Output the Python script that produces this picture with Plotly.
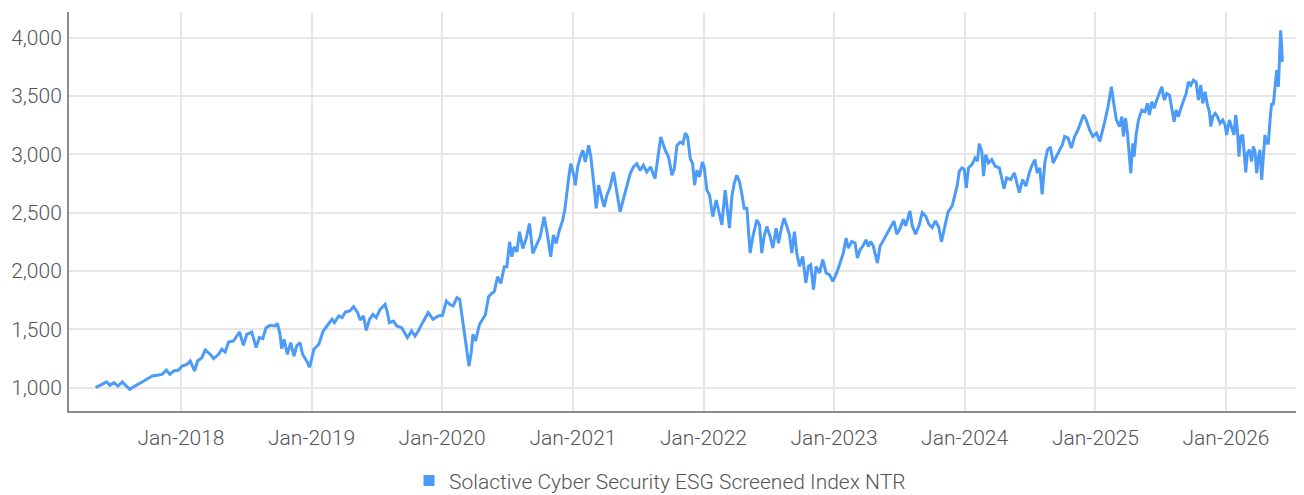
import pandas as pd
import plotly.graph_objects as go

# Time positions (decimal years) and index levels
time_years = [
    2017.346, 2017.38, 2017.43, 2017.455, 2017.486, 2017.517, 2017.55, 2017.575, 2017.608, 2017.639,
    2017.677, 2017.715, 2017.753, 2017.779, 2017.817, 2017.855, 2017.888, 2017.914, 2017.944, 2017.982,
    2018.008, 2018.046, 2018.071, 2018.104, 2018.127, 2018.16, 2018.186, 2018.224, 2018.25, 2018.288,
    2018.313, 2018.338, 2018.364, 2018.402, 2018.448, 2018.478, 2018.504, 2018.542, 2018.575, 2018.6,
    2018.626, 2018.651, 2018.682, 2018.72, 2018.738, 2018.758, 2018.771, 2018.789, 2018.814, 2018.84,
    2018.865, 2018.885, 2018.911, 2018.931, 2018.962, 2018.985,
    2019.018, 2019.056, 2019.089, 2019.119, 2019.157, 2019.175, 2019.208, 2019.234, 2019.259, 2019.292,
    2019.322, 2019.353, 2019.373, 2019.398, 2019.419, 2019.444, 2019.47, 2019.495, 2019.525, 2019.563,
    2019.581, 2019.596, 2019.627, 2019.652, 2019.69, 2019.734, 2019.766, 2019.792, 2019.817, 2019.85,
    2019.893, 2019.93, 2019.97, 2020.003, 2020.033, 2020.058, 2020.084, 2020.114, 2020.135, 2020.16,
    2020.185, 2020.206, 2020.223, 2020.236, 2020.256, 2020.287,
    2020.331, 2020.356, 2020.382, 2020.4, 2020.425, 2020.45, 2020.476, 2020.496, 2020.517, 2020.534,
    2020.552, 2020.573, 2020.593, 2020.618, 2020.644, 2020.669, 2020.695, 2020.725, 2020.751, 2020.781,
    2020.807, 2020.832, 2020.852, 2020.873, 2020.898, 2020.924, 2020.941, 2020.967, 2020.985, 2021.01,
    2021.018, 2021.036, 2021.056, 2021.076, 2021.094, 2021.12, 2021.137, 2021.158, 2021.178, 2021.196,
    2021.214, 2021.239, 2021.26, 2021.285, 2021.31, 2021.331, 2021.361, 2021.387, 2021.412, 2021.438,
    2021.463, 2021.489, 2021.514, 2021.539, 2021.565, 2021.595, 2021.628, 2021.654, 2021.672,
    2021.707, 2021.732, 2021.758, 2021.776, 2021.796, 2021.821, 2021.842, 2021.86, 2021.878, 2021.898,
    2021.916, 2021.931, 2021.949, 2021.969, 2021.99, 2022.005, 2022.026, 2022.046, 2022.071, 2022.097,
    2022.115, 2022.14, 2022.166, 2022.186, 2022.199, 2022.217, 2022.235, 2022.255, 2022.276, 2022.293,
    2022.311, 2022.332, 2022.344, 2022.357, 2022.378, 2022.408, 2022.429, 2022.446, 2022.464, 2022.485,
    2022.51, 2022.531, 2022.556, 2022.574, 2022.599, 2022.617, 2022.638, 2022.658, 2022.676, 2022.696,
    2022.714, 2022.735, 2022.76, 2022.783, 2022.804, 2022.821, 2022.842, 2022.862, 2022.888, 2022.913,
    2022.939, 2022.964, 2022.99, 2023.02, 2023.046, 2023.071, 2023.092, 2023.11, 2023.135, 2023.161,
    2023.179, 2023.199, 2023.219, 2023.245, 2023.263, 2023.281, 2023.301, 2023.332, 2023.352,
    2023.396, 2023.421, 2023.459, 2023.48, 2023.505, 2023.53, 2023.548, 2023.581, 2023.599, 2023.624,
    2023.65, 2023.675, 2023.701, 2023.726, 2023.751, 2023.777, 2023.802, 2023.822, 2023.845, 2023.873,
    2023.904, 2023.921, 2023.942, 2023.959, 2023.98, 2023.997, 2024.013, 2024.03, 2024.056, 2024.081,
    2024.099, 2024.112, 2024.132, 2024.145, 2024.162, 2024.183, 2024.208, 2024.234, 2024.266, 2024.284,
    2024.302, 2024.322, 2024.353, 2024.381, 2024.398, 2024.419, 2024.444, 2024.47, 2024.495, 2024.513,
    2024.538, 2024.556, 2024.576, 2024.594, 2024.614, 2024.635, 2024.657, 2024.678, 2024.703, 2024.728,
    2024.749, 2024.766, 2024.792, 2024.817, 2024.843, 2024.868, 2024.888, 2024.911, 2024.931, 2024.957,
    2024.982, 2025.008, 2025.033, 2025.053, 2025.071, 2025.096, 2025.122, 2025.14, 2025.16,
    2025.184, 2025.202, 2025.214, 2025.23, 2025.245, 2025.26, 2025.27, 2025.286, 2025.296, 2025.311,
    2025.329, 2025.355, 2025.38, 2025.398, 2025.413, 2025.431, 2025.449, 2025.469, 2025.49, 2025.508,
    2025.526, 2025.546, 2025.566, 2025.584, 2025.602, 2025.617, 2025.635, 2025.653, 2025.673, 2025.694,
    2025.712, 2025.73, 2025.75, 2025.77, 2025.788, 2025.806, 2025.821, 2025.839, 2025.857, 2025.872,
    2025.883, 2025.898, 2025.916, 2025.934, 2025.954, 2025.974, 2025.992, 2026.005, 2026.026, 2026.043,
    2026.061, 2026.074, 2026.087, 2026.099, 2026.112, 2026.128, 2026.14, 2026.151, 2026.163, 2026.179,
    2026.196, 2026.209, 2026.222, 2026.235, 2026.247, 2026.26, 2026.273, 2026.286, 2026.298, 2026.311,
    2026.324, 2026.337, 2026.349, 2026.362, 2026.375, 2026.388, 2026.401, 2026.413, 2026.418, 2026.426,
    2026.431,
]
index_values = [
    1000, 1020, 1049, 1020, 1043, 1014, 1049, 1020, 986, 1009,
    1031, 1057, 1083, 1100, 1106, 1114, 1151, 1114, 1143, 1151,
    1186, 1200, 1229, 1143, 1229, 1257, 1323, 1286, 1249, 1286,
    1329, 1306, 1391, 1400, 1477, 1363, 1457, 1477, 1343, 1429,
    1420, 1514, 1534, 1529, 1551, 1457, 1334, 1414, 1286, 1386,
    1271, 1357, 1386, 1286, 1229, 1175,
    1329, 1372, 1486, 1529, 1586, 1557, 1614, 1600, 1648, 1657,
    1694, 1643, 1580, 1614, 1491, 1586, 1628, 1600, 1671, 1714,
    1643, 1557, 1571, 1529, 1514, 1429, 1486, 1443, 1486, 1557,
    1643, 1586, 1614, 1620, 1742, 1714, 1700, 1771, 1757, 1557,
    1357, 1186, 1300, 1457, 1400, 1543,
    1623, 1780, 1809, 1823, 1951, 1894, 2037, 2037, 2250, 2122,
    2208, 2165, 2336, 2193, 2279, 2407, 2151, 2222, 2293, 2464,
    2308, 2122, 2308, 2236, 2350, 2436, 2536, 2778, 2920, 2806,
    2735, 2892, 2977, 3034, 2934, 3077, 2977, 2763, 2536, 2735,
    2664, 2550, 2650, 2721, 2849, 2693, 2507, 2621, 2721, 2835,
    2892, 2920, 2863, 2906, 2849, 2892, 2792, 3020, 3148,
    3034, 2977, 2821, 2878, 3077, 3105, 3091, 3182, 3148, 2963,
    2920, 2736, 2864, 2807, 2935, 2892, 2693, 2651, 2466, 2608,
    2523, 2395, 2693, 2523, 2367, 2636, 2750, 2821, 2764, 2665,
    2537, 2537, 2324, 2154, 2296, 2438, 2395, 2154, 2296, 2381,
    2296, 2196, 2367, 2239, 2381, 2452, 2381, 2310, 2154, 2338,
    2154, 2040, 2125, 1898, 2040, 2054, 1841, 2040, 1983, 2097,
    1983, 1969, 1912, 1983, 2068, 2154, 2281, 2196, 2253, 2239,
    2111, 2182, 2211, 2267, 2211, 2253, 2211, 2068, 2211,
    2302, 2358, 2429, 2316, 2364, 2444, 2387, 2515, 2387, 2316,
    2387, 2500, 2472, 2401, 2373, 2429, 2373, 2250, 2358, 2506,
    2557, 2642, 2727, 2855, 2884, 2870, 2713, 2884, 2912, 2969,
    2941, 3091, 3026, 2813, 2997, 2926, 2955, 2898, 2884, 2798,
    2705, 2798, 2784, 2841, 2756, 2671, 2784, 2727, 2841, 2898,
    2955, 2841, 2884, 2657, 2926, 3040, 3063, 2926, 2983, 3040,
    3083, 3154, 3139, 3054, 3154, 3210, 3267, 3338, 3296, 3210,
    3154, 3182, 3111, 3196, 3281, 3409, 3580, 3437, 3296,
    3238, 3323, 3153, 3309, 3181, 3010, 2839, 3095, 2981, 3166,
    3294, 3380, 3366, 3437, 3337, 3451, 3394, 3465, 3536, 3579,
    3465, 3522, 3508, 3380, 3280, 3380, 3323, 3394, 3465, 3522,
    3622, 3593, 3636, 3622, 3465, 3593, 3437, 3536, 3423, 3366,
    3238, 3323, 3351, 3323, 3266, 3294, 3252, 3166, 3294, 3238,
    3166, 3337, 3209, 2981, 3152, 3166, 2953, 2845, 3010, 3038,
    2939, 3067, 3024, 2839, 2967, 3038, 2782, 2953, 3166, 3095,
    3095, 3294, 3437, 3423, 3593, 3721, 3579, 3920, 4063, 3935,
    3792,
]

series_name = "Solactive Cyber Security ESG Screened Index NTR"
x_tick_years = [2018, 2019, 2020, 2021, 2022, 2023, 2024, 2025, 2026]
x_tick_labels = ["Jan-2018", "Jan-2019", "Jan-2020", "Jan-2021", "Jan-2022",
                 "Jan-2023", "Jan-2024", "Jan-2025", "Jan-2026"]
y_tick_values = [1000, 1500, 2000, 2500, 3000, 3500, 4000]


def year_to_date(y):
    yr = int(y)
    return pd.Timestamp(yr, 1, 1) + pd.Timedelta(days=(y - yr) * 365.25)


dates = [year_to_date(t) for t in time_years]
tick_dates = [pd.Timestamp(y, 1, 1) for y in x_tick_years]

LINE_COLOR = "#4d9bf8"
FONT = "Roboto"
TEXT_COLOR = "#555555"
FSIZE = 21

fig = go.Figure()
fig.add_trace(go.Scatter(
    x=dates, y=index_values, mode="lines", name=series_name,
    line=dict(color=LINE_COLOR, width=3), showlegend=False,
))
fig.add_trace(go.Scatter(
    x=[None], y=[None], mode="markers", name=series_name,
    marker=dict(symbol="square", size=11, color=LINE_COLOR),
))

fig.update_layout(
    width=1304, height=495,
    margin=dict(l=61, r=8, t=4, b=92, autoexpand=False),
    paper_bgcolor="white", plot_bgcolor="white",
    font=dict(family=FONT, size=FSIZE, color=TEXT_COLOR, weight=300),
    legend=dict(
        orientation="h", xref="container", yref="container",
        x=0.5, y=0.045, xanchor="center", yanchor="middle",
        font=dict(family=FONT, size=FSIZE, color=TEXT_COLOR, weight=300),
        itemwidth=30, tracegroupgap=0,
    ),
)
fig.update_xaxes(
    range=[year_to_date(2017.142), year_to_date(2026.597)],
    tickvals=tick_dates, ticktext=x_tick_labels,
    showgrid=True, gridcolor="#e6e6e6", gridwidth=2,
    showline=True, linecolor="#8c8c8c", linewidth=2,
    ticks="", ticklabelstandoff=7, zeroline=False, automargin=False,
    tickfont=dict(family=FONT, size=FSIZE, color=TEXT_COLOR, weight=300),
)
fig.update_yaxes(
    range=[800, 4220],
    tickvals=y_tick_values, tickformat=",d",
    showgrid=True, gridcolor="#e6e6e6", gridwidth=2,
    showline=True, linecolor="#8c8c8c", linewidth=2,
    ticks="", ticklabelstandoff=1, zeroline=False, automargin=False,
    tickfont=dict(family=FONT, size=FSIZE, color=TEXT_COLOR, weight=300),
)

fig.write_html("out.html")
